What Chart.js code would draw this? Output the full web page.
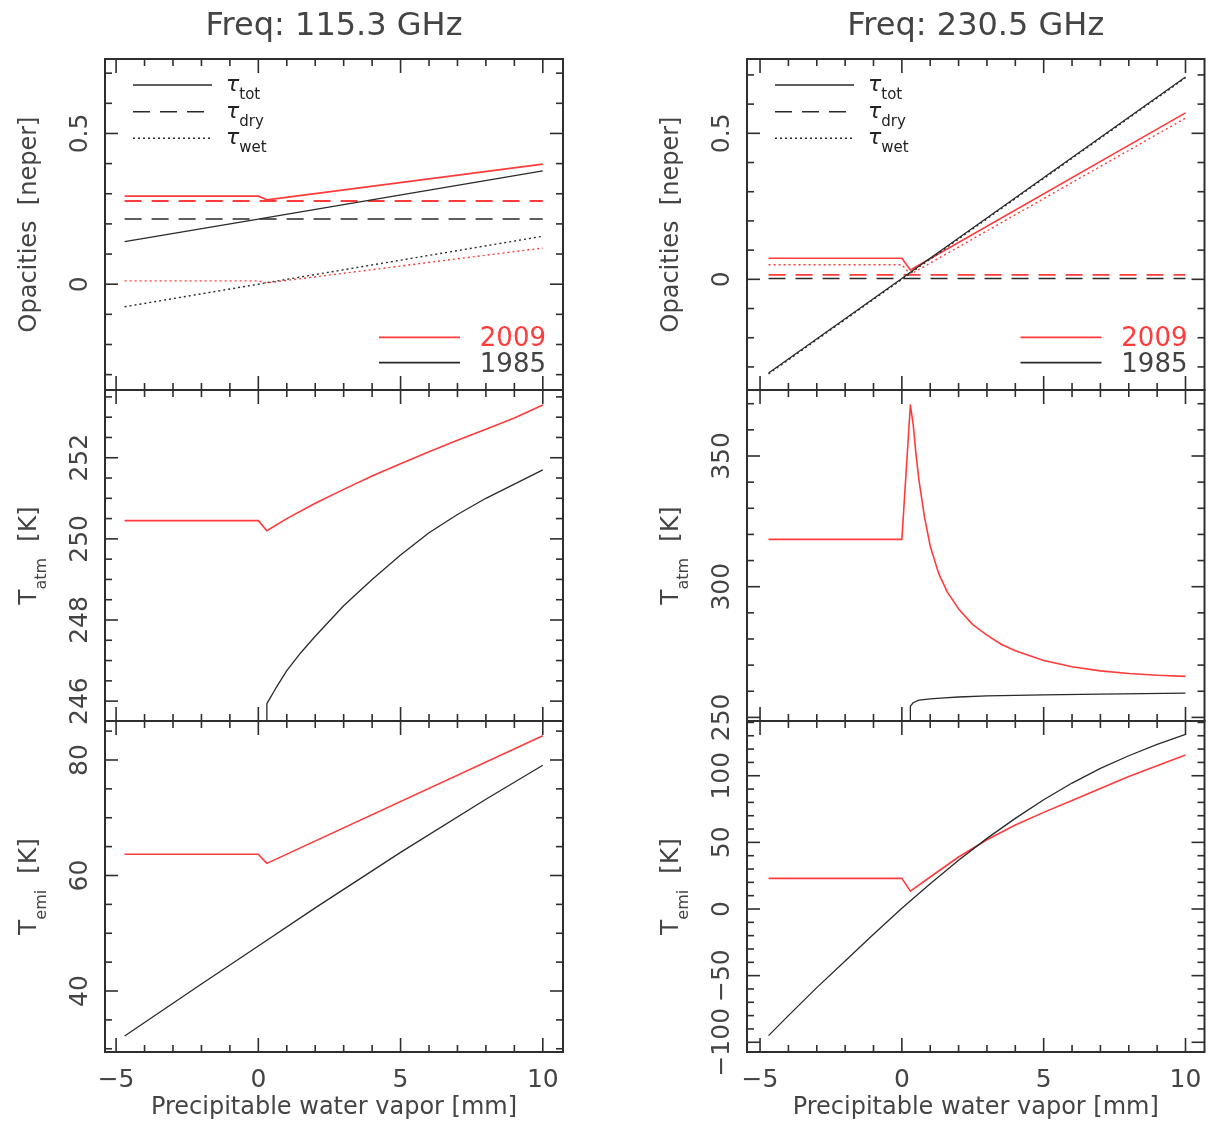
<!DOCTYPE html>
<html><head><meta charset="utf-8">
<script src="https://cdn.jsdelivr.net/npm/chart.js@4.4.0/dist/chart.umd.min.js"></script>
<style>
html,body{margin:0;padding:0;background:#fff;}
#wrap{position:relative;width:1209px;height:1122px;overflow:hidden;background:#fff;}
canvas{position:absolute;left:0;top:0;}
</style></head><body><div id="wrap"></div>
<script>
// ---------------- data ----------------
const xTickVals = [-5, 0, 5, 10];
const xTickText = ['−5', '0', '5', '10'];
const pwvBreak = [-4.7, 0, 0.3, 10];

// opacities at 115.3 GHz [neper]
const tauTot2009_115 = [0.292, 0.292, 0.280, 0.398];
const tauDry2009_115 = [0.276, 0.276, 0.276, 0.276];
const tauWet2009_115 = [0.011, 0.011, 0.004, 0.120];
const tauTot1985_115 = [0.141, 0.216, 0.221, 0.376];
const tauDry1985_115 = [0.216, 0.216, 0.216, 0.216];
const tauWet1985_115 = [-0.075, 0.000, 0.005, 0.159];
// opacities at 230.5 GHz [neper]
const tauTot2009_230 = [0.072, 0.072, 0.032, 0.570];
const tauDry2009_230 = [0.015, 0.015, 0.015, 0.015];
const tauWet2009_230 = [0.050, 0.050, 0.017, 0.552];
const tauTot1985_230 = [-0.321, 0.003, 0.024, 0.693];
const tauDry1985_230 = [0.003, 0.003, 0.003, 0.003];
const tauWet1985_230 = [-0.324, 0.000, 0.021, 0.690];
const tauTickVals = [0, 0.5];
const tauTickText = ['0', '0.5'];

// T_atm at 115.3 GHz [K]
const tatmX2009_115 = [-4.7, 0, 0.3, 1, 2, 3, 4, 5, 6, 7, 8, 9, 10];
const tatm2009_115 = [250.45, 250.45, 250.2, 250.5, 250.88, 251.22, 251.55, 251.85, 252.15, 252.43, 252.7, 252.98, 253.3];
const tatmX1985_115 = [0.29, 0.3, 0.6, 1, 1.5, 2, 3, 4, 5, 6, 7, 8, 9, 10];
const tatm1985_115 = [240, 245.94, 246.3, 246.75, 247.2, 247.6, 248.35, 249.0, 249.6, 250.15, 250.6, 251.0, 251.35, 251.7];
const tatm115TickVals = [246, 248, 250, 252];
const tatm115TickText = ['246', '248', '250', '252'];

// T_atm at 230.5 GHz [K]
const tatmX2009_230 = [-4.7, 0, 0.3, 0.4, 0.5, 0.6, 0.8, 1.0, 1.3, 1.6, 2.0, 2.5, 3.0, 3.5, 4, 5, 6, 7, 8, 9, 10];
const tatm2009_230 = [318.1, 318.1, 369.5, 362, 350.5, 341, 326.5, 315.5, 305, 298, 291.5, 285.5, 281.5, 278, 275.5, 271.8, 269.4, 267.8, 266.8, 266.1, 265.7];
const tatmX1985_230 = [0.29, 0.3, 0.4, 0.6, 1, 1.5, 2, 3, 5, 7, 10];
const tatm1985_230 = [200, 254.3, 255.6, 256.6, 257.1, 257.5, 257.8, 258.2, 258.6, 258.9, 259.3];
const tatm230TickVals = [250, 300, 350];
const tatm230TickText = ['250', '300', '350'];

// T_emi at 115.3 GHz [K]
const temiX2009_115 = [-4.7, 0, 0.3, 10];
const temi2009_115 = [63.67, 63.67, 62.1, 84.2];
const temiX1985_115 = [-4.7, -2, 0, 2, 5, 8, 10];
const temi1985_115 = [32.2, 41.2, 47.8, 54.4, 64.0, 73.2, 79.1];
const temi115TickVals = [40, 60, 80];
const temi115TickText = ['40', '60', '80'];

// T_emi at 230.5 GHz [K]
const temiX2009_230 = [-4.7, 0, 0.3, 1, 2, 3, 4, 5, 6, 7, 8, 9, 10];
const temi2009_230 = [23, 23, 13.4, 24, 39, 52, 63, 72.5, 81.5, 90.5, 99.5, 107.5, 115.5];
const temiX1985_230 = [-4.7, -4, -3, -2, -1, 0, 1, 2, 3, 4, 5, 6, 7, 8, 9, 10];
const temi1985_230 = [-95, -80, -59, -39, -19, 0.5, 19, 36.5, 53, 68, 82, 94.5, 105.5, 115, 123.5, 131];
const temi230TickVals = [-100, -50, 0, 50, 100];
const temi230TickText = ['−100', '−50', '0', '50', '100'];

// ---------------- style / layout ----------------
const FONT = '"DejaVu Sans", "Liberation Sans", sans-serif';
const TXT = '#444444';
const FRAME = '#2e2e2e';
const RED = '#ff3b3b';
const BLK = '#2a2a2a';
const DASH = [17, 10];
const DOT = [2, 3];
const W = 1209, H = 1122;
const colL = [105, 747], colR = [563, 1204.5];
const rowT = [59, 390, 721], rowB = [390, 721, 1052];
const colX = [[-5.39, 10.71], [-5.46, 10.67]];

function series(xs, ys, color, dash, width) {
  return {
    data: xs.map((x, i) => ({ x: x, y: ys[i] })),
    borderColor: color, borderWidth: width, borderDash: dash || [],
    borderJoinStyle: 'round',
    showLine: true, pointRadius: 0, fill: false, tension: 0
  };
}

function drawRun(ctx, parts, cx, cy, rotate, align) {
  let w = 0;
  parts.forEach(pt => { ctx.font = pt.font; pt.w = ctx.measureText(pt.t).width; w += pt.w; });
  ctx.save();
  ctx.translate(cx, cy);
  if (rotate) ctx.rotate(-Math.PI / 2);
  ctx.textAlign = 'left'; ctx.textBaseline = 'alphabetic';
  let x = align === 'left' ? 0 : (align === 'right' ? -w : -w / 2);
  parts.forEach(pt => { ctx.font = pt.font; ctx.fillStyle = pt.color || TXT; ctx.fillText(pt.t, x, pt.dy); x += pt.w; });
  ctx.restore();
}

function makePlugin(p) {
  return {
    id: 'pg' + p.id,
    afterDatasetsDraw(chart) {
      const ctx = chart.ctx, a = chart.chartArea, xs = chart.scales.x, ys = chart.scales.y;
      const seg = (x1, y1, x2, y2) => { ctx.beginPath(); ctx.moveTo(x1, y1); ctx.lineTo(x2, y2); ctx.stroke(); };
      ctx.save();
      ctx.setLineDash([]);
      ctx.strokeStyle = FRAME;
      ctx.lineWidth = 2;
      ctx.strokeRect(a.left, a.top, a.right - a.left, a.bottom - a.top);
      ctx.lineWidth = 1.6;
      // x ticks (major 5, minor 1)
      for (let i = Math.ceil(xs.min - 1e-9); i <= Math.floor(xs.max + 1e-9); i++) {
        const len = (i % 5 === 0) ? 14 : 7;
        const px = xs.getPixelForValue(i);
        seg(px, a.bottom, px, a.bottom - len);
        seg(px, a.top, px, a.top + len);
      }
      // y ticks
      const ratio = Math.round(p.yMajor / p.yMinor);
      for (let i = Math.ceil(ys.min / p.yMinor - 1e-6); i <= Math.floor(ys.max / p.yMinor + 1e-6); i++) {
        const major = (((i % ratio) + ratio) % ratio) === 0;
        const len = major ? 13 : 7;
        const py = ys.getPixelForValue(i * p.yMinor);
        seg(a.left, py, a.left + len, py);
        seg(a.right, py, a.right - len, py);
      }
      // y tick labels (rotated)
      p.yTicks.forEach((v, k) => {
        drawRun(ctx, [{ t: p.yText[k], font: '25px ' + FONT, dy: 9 }], a.left - 27, ys.getPixelForValue(v), true);
      });
      // y title
      drawRun(ctx, p.yTitle, a.left - 78, (a.top + a.bottom) / 2, true);
      // column title
      if (p.title) {
        drawRun(ctx, [{ t: p.title, font: '32px ' + FONT, dy: 0 }], (a.left + a.right) / 2, 35, false);
      }
      // x labels
      if (p.xLabels) {
        xTickVals.forEach((v, k) => {
          drawRun(ctx, [{ t: xTickText[k], font: '25px ' + FONT, dy: 0 }], xs.getPixelForValue(v), a.bottom + 35, false);
        });
        drawRun(ctx, [{ t: 'Precipitable water vapor [mm]', font: '24px ' + FONT, dy: 0 }], (a.left + a.right) / 2, a.bottom + 62, false);
      }
      // legends
      if (p.legend) {
        const lx0 = a.left + 28, lx1 = a.left + 107;
        const styles = [[], DASH, DOT];
        const subs = ['tot', 'dry', 'wet'];
        const ly = [a.top + 26, a.top + 52.7, a.top + 79.3];
        ctx.strokeStyle = BLK; ctx.lineWidth = 1.4;
        for (let k = 0; k < 3; k++) {
          ctx.setLineDash(styles[k]);
          seg(lx0, ly[k], lx1, ly[k]);
          ctx.setLineDash([]);
          drawRun(ctx, [
            { t: 'τ', font: 'italic 22px ' + FONT, dy: 6, color: '#222' },
            { t: subs[k], font: '15px ' + FONT, dy: 14, color: '#222' }
          ], a.left + 121, ly[k], false, 'left');
        }
        const ry = [a.top + 278.3, a.top + 303.7];
        const rc = [RED, BLK];
        const rt = ['2009', '1985'];
        for (let k = 0; k < 2; k++) {
          ctx.strokeStyle = rc[k]; ctx.lineWidth = 1.8;
          seg(a.right - 184, ry[k], a.right - 103, ry[k]);
          drawRun(ctx, [{ t: rt[k], font: '26px ' + FONT, dy: 9, color: k === 0 ? RED : TXT }], a.right - 17, ry[k], false, 'right');
        }
      }
      ctx.restore();
    }
  };
}

const sub = (main, s) => [
  { t: main, font: '25px ' + FONT, dy: 9 },
  { t: s, font: '16px ' + FONT, dy: 19 },
  { t: '  [K]', font: '25px ' + FONT, dy: 9 }
];

const panels = [
  { id: 1, col: 0, row: 0, yr: [-0.351, 0.747], yMajor: 0.5, yMinor: 0.1, yTicks: tauTickVals, yText: tauTickText,
    yTitle: [{ t: 'Opacities  [neper]', font: '24px ' + FONT, dy: 9 }], title: 'Freq: 115.3 GHz', legend: true,
    datasets: [
      series(pwvBreak, tauDry1985_115, BLK, DASH, 1.6),
      series(pwvBreak, tauWet1985_115, BLK, DOT, 1.4),
      series(pwvBreak, tauTot1985_115, BLK, [], 1.3),
      series(pwvBreak, tauDry2009_115, RED, DASH, 1.8),
      series(pwvBreak, tauWet2009_115, RED, DOT, 1.4),
      series(pwvBreak, tauTot2009_115, RED, [], 1.8)
    ] },
  { id: 2, col: 1, row: 0, yr: [-0.379, 0.7545], yMajor: 0.5, yMinor: 0.1, yTicks: tauTickVals, yText: tauTickText,
    yTitle: [{ t: 'Opacities  [neper]', font: '24px ' + FONT, dy: 9 }], title: 'Freq: 230.5 GHz', legend: true,
    datasets: [
      series(pwvBreak, tauDry1985_230, BLK, DASH, 1.6),
      series(pwvBreak, tauWet1985_230, BLK, DOT, 1.4),
      series(pwvBreak, tauTot1985_230, BLK, [], 1.3),
      series(pwvBreak, tauDry2009_230, RED, DASH, 1.8),
      series(pwvBreak, tauWet2009_230, RED, DOT, 1.4),
      series(pwvBreak, tauTot2009_230, RED, [], 1.6)
    ] },
  { id: 3, col: 0, row: 1, yr: [245.51, 253.67], yMajor: 2, yMinor: 0.5, yTicks: tatm115TickVals, yText: tatm115TickText,
    yTitle: sub('T', 'atm'),
    datasets: [
      series(tatmX1985_115, tatm1985_115, BLK, [], 1.3),
      series(tatmX2009_115, tatm2009_115, RED, [], 1.6)
    ] },
  { id: 4, col: 1, row: 1, yr: [248.62, 375.25], yMajor: 50, yMinor: 10, yTicks: tatm230TickVals, yText: tatm230TickText,
    yTitle: sub('T', 'atm'),
    datasets: [
      series(tatmX1985_230, tatm1985_230, BLK, [], 1.3),
      series(tatmX2009_230, tatm2009_230, RED, [], 1.6)
    ] },
  { id: 5, col: 0, row: 2, yr: [29.44, 86.75], yMajor: 20, yMinor: 5, yTicks: temi115TickVals, yText: temi115TickText,
    yTitle: sub('T', 'emi'), xLabels: true,
    datasets: [
      series(temiX1985_115, temi1985_115, BLK, [], 1.3),
      series(temiX2009_115, temi2009_115, RED, [], 1.6)
    ] },
  { id: 6, col: 1, row: 2, yr: [-107.3, 141.07], yMajor: 50, yMinor: 10, yTicks: temi230TickVals, yText: temi230TickText,
    yTitle: sub('T', 'emi'), xLabels: true,
    datasets: [
      series(temiX1985_230, temi1985_230, BLK, [], 1.3),
      series(temiX2009_230, temi2009_230, RED, [], 1.6)
    ] }
];

const wrap = document.getElementById('wrap');
panels.forEach(p => {
  const cv = document.createElement('canvas');
  cv.width = W; cv.height = H;
  cv.style.width = W + 'px'; cv.style.height = H + 'px';
  wrap.appendChild(cv);
  new Chart(cv.getContext('2d'), {
    type: 'scatter',
    data: { datasets: p.datasets },
    options: {
      responsive: false, animation: false, devicePixelRatio: 1, events: [],
      layout: { padding: { left: colL[p.col], right: W - colR[p.col], top: rowT[p.row], bottom: H - rowB[p.row] } },
      plugins: { legend: { display: false }, tooltip: { enabled: false } },
      scales: {
        x: { type: 'linear', display: false, min: colX[p.col][0], max: colX[p.col][1] },
        y: { type: 'linear', display: false, min: p.yr[0], max: p.yr[1] }
      }
    },
    plugins: [makePlugin(p)]
  });
});
</script>
</body></html>
